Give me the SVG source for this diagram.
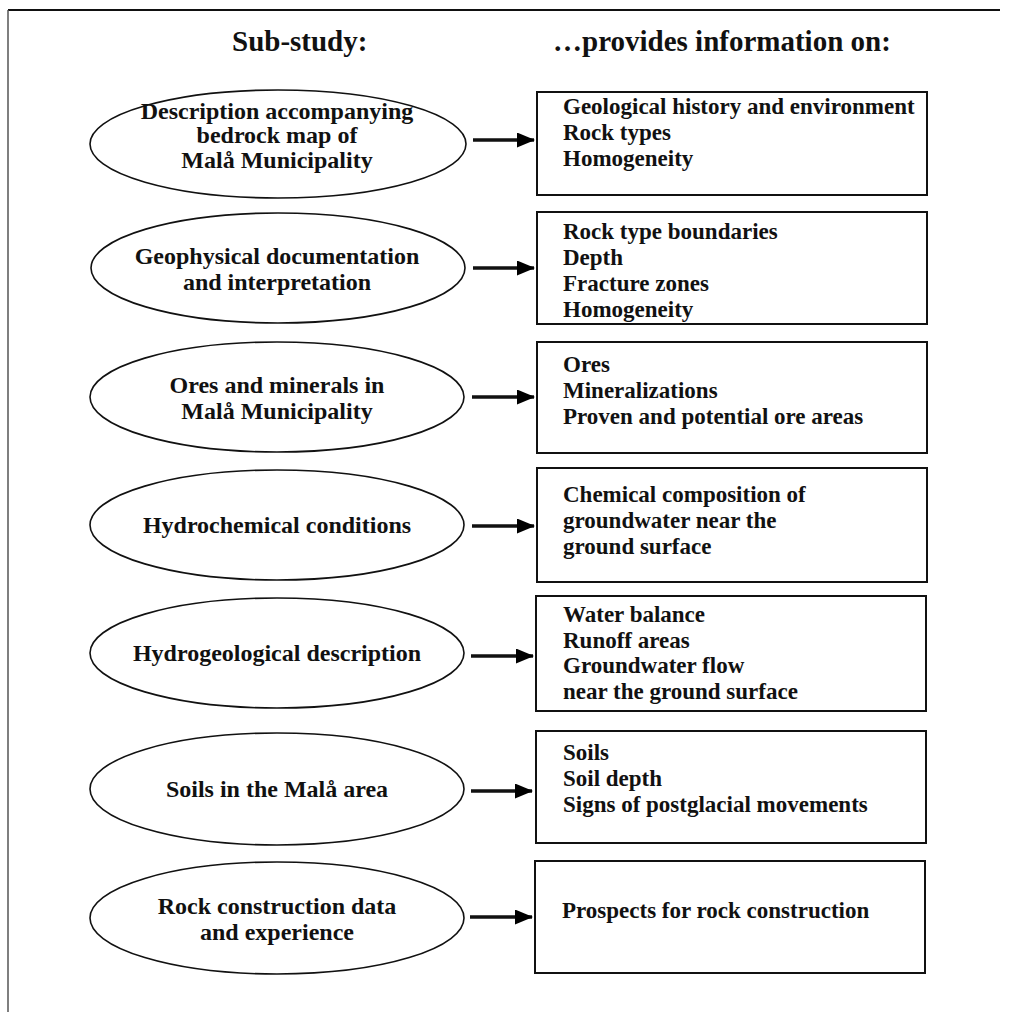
<svg xmlns="http://www.w3.org/2000/svg" width="1019" height="1012" viewBox="0 0 1019 1012">
<defs>
<marker id="ah" markerWidth="18" markerHeight="15" refX="17" refY="7.5" orient="auto" markerUnits="userSpaceOnUse">
<path d="M0,0 L18,7.5 L0,15 Z" fill="#000"/>
</marker>
<style>
.t{font-family:"Liberation Serif","Times New Roman",serif;font-weight:bold;font-size:23px;fill:#111}
.et{font-size:24px}
.h{font-family:"Liberation Serif","Times New Roman",serif;font-weight:bold;font-size:29px;fill:#111}
.e{fill:#fff;stroke:#111;stroke-width:1.6}
.b{fill:#fff;stroke:#111;stroke-width:2}
.c{stroke:#111;stroke-width:3.5;fill:none;marker-end:url(#ah)}
.m{text-anchor:middle}
</style>
</defs>
<rect width="1019" height="1012" fill="#fff"/>
<g id="frame">
<path d="M8,10 H1000" stroke="#111" stroke-width="2" fill="none"/>
<path d="M8,10 V1012" stroke="#555" stroke-width="1.5" fill="none"/>
</g>
<g id="headers">
<text class="h" x="232" y="51">Sub-study:</text>
<text class="h" x="553" y="51">…provides information on:</text>
</g>
<g id="connectors">
<line class="c" x1="473" y1="140" x2="534" y2="140"/>
<line class="c" x1="473" y1="268" x2="534" y2="268"/>
<line class="c" x1="472" y1="397" x2="534" y2="397"/>
<line class="c" x1="472" y1="526" x2="534" y2="526"/>
<line class="c" x1="471" y1="656" x2="533" y2="656"/>
<line class="c" x1="471" y1="791" x2="532" y2="791"/>
<line class="c" x1="470" y1="917" x2="532" y2="917"/>
</g>
<g id="n1">
<ellipse class="e" cx="278" cy="144" rx="188" ry="54"/>
<text class="t et m" x="277" y="119">Description accompanying</text>
<text class="t et m" x="277" y="143">bedrock map of</text>
<text class="t et m" x="277" y="168">Malå Municipality</text>
</g>
<g id="n2">
<ellipse class="e" cx="278" cy="268" rx="187" ry="55"/>
<text class="t et m" x="277" y="264">Geophysical documentation</text>
<text class="t et m" x="277" y="290">and interpretation</text>
</g>
<g id="n3">
<ellipse class="e" cx="277" cy="397" rx="187" ry="55"/>
<text class="t et m" x="277" y="393">Ores and minerals in</text>
<text class="t et m" x="277" y="419">Malå Municipality</text>
</g>
<g id="n4">
<ellipse class="e" cx="277" cy="525" rx="187" ry="55"/>
<text class="t et m" x="277" y="533">Hydrochemical conditions</text>
</g>
<g id="n5">
<ellipse class="e" cx="277" cy="653" rx="187" ry="55"/>
<text class="t et m" x="277" y="661">Hydrogeological description</text>
</g>
<g id="n6">
<ellipse class="e" cx="277" cy="789" rx="187" ry="56"/>
<text class="t et m" x="277" y="797">Soils in the Malå area</text>
</g>
<g id="n7">
<ellipse class="e" cx="277" cy="918" rx="187" ry="56"/>
<text class="t et m" x="277" y="914">Rock construction data</text>
<text class="t et m" x="277" y="940">and experience</text>
</g>
<g id="b1">
<rect class="b" x="537" y="92" width="390" height="103"/>
<text class="t" x="563" y="114">Geological history and environment</text>
<text class="t" x="563" y="140">Rock types</text>
<text class="t" x="563" y="166">Homogeneity</text>
</g>
<g id="b2">
<rect class="b" x="537" y="212" width="390" height="112"/>
<text class="t" x="563" y="239">Rock type boundaries</text>
<text class="t" x="563" y="265">Depth</text>
<text class="t" x="563" y="291">Fracture zones</text>
<text class="t" x="563" y="317">Homogeneity</text>
</g>
<g id="b3">
<rect class="b" x="537" y="342" width="390" height="111"/>
<text class="t" x="563" y="372">Ores</text>
<text class="t" x="563" y="398">Mineralizations</text>
<text class="t" x="563" y="424">Proven and potential ore areas</text>
</g>
<g id="b4">
<rect class="b" x="537" y="468" width="390" height="114"/>
<text class="t" x="563" y="502">Chemical composition of</text>
<text class="t" x="563" y="528">groundwater near the</text>
<text class="t" x="563" y="554">ground surface</text>
</g>
<g id="b5">
<rect class="b" x="536" y="596" width="390" height="115"/>
<text class="t" x="563" y="622">Water balance</text>
<text class="t" x="563" y="648">Runoff areas</text>
<text class="t" x="563" y="673">Groundwater flow</text>
<text class="t" x="563" y="699">near the ground surface</text>
</g>
<g id="b6">
<rect class="b" x="536" y="731" width="390" height="112"/>
<text class="t" x="563" y="760">Soils</text>
<text class="t" x="563" y="786">Soil depth</text>
<text class="t" x="563" y="812">Signs of postglacial movements</text>
</g>
<g id="b7">
<rect class="b" x="535" y="861" width="390" height="112"/>
<text class="t" x="562" y="918">Prospects for rock construction</text>
</g>
</svg>
